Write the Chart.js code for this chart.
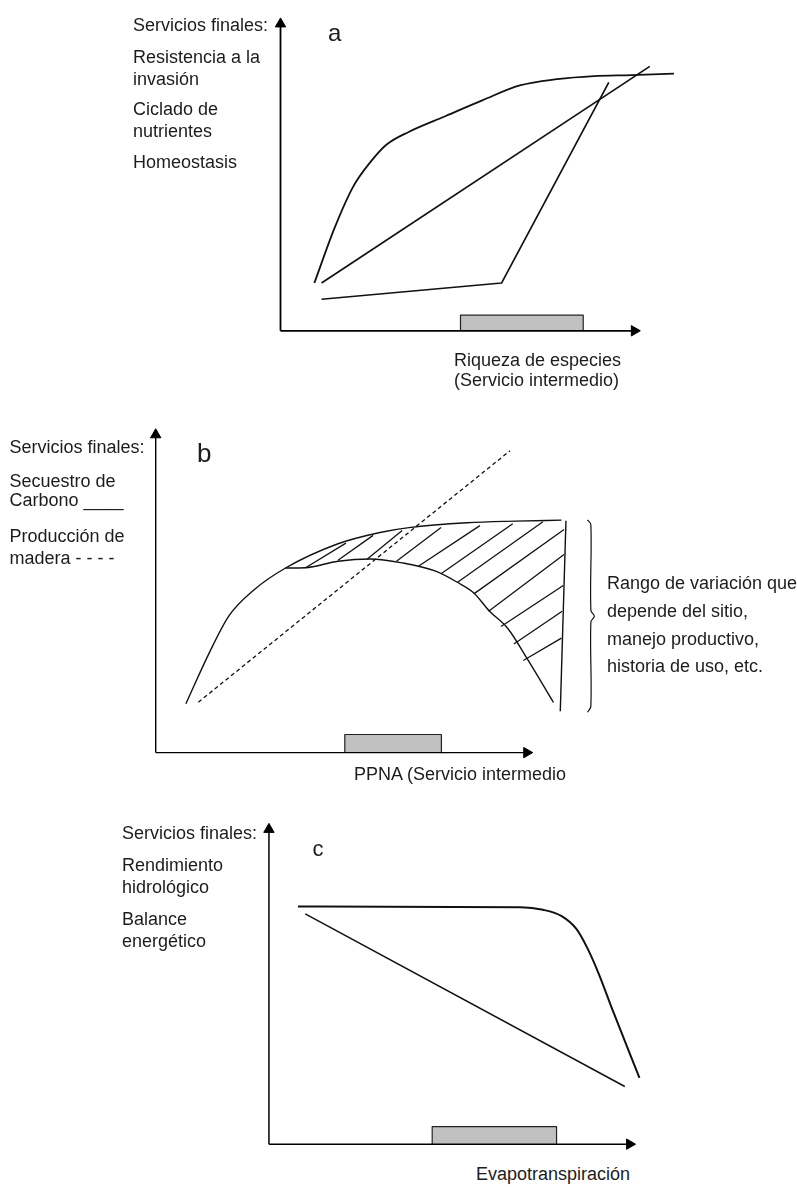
<!DOCTYPE html>
<html lang="es">
<head>
<meta charset="utf-8">
<title>Servicios finales e intermedios</title>
<script src="https://cdn.jsdelivr.net/npm/chart.js@4.4.0/dist/chart.umd.min.js"></script>
<style>
  body { margin: 0; background: #fff; }
  #lienzo { position: relative; width: 797px; height: 1187px; overflow: hidden; }
  canvas { position: absolute; }
  .txt {
    position: absolute;
    font-family: "Liberation Sans", Arial, sans-serif;
    font-size: 18px;
    line-height: 18px;
    color: #1c1c1c;
    white-space: nowrap;
  }
</style>
</head>
<body>
<div id="lienzo">
  <canvas id="panelA" width="432" height="355" style="left:259px;top:2px"></canvas>
  <canvas id="panelB" width="470" height="362" style="left:139px;top:413px"></canvas>
  <canvas id="panelC" width="405" height="354" style="left:252px;top:808px"></canvas>

  <!-- panel a -->
  <div class="txt" style="left:133px;top:15.8px">Servicios finales:</div>
  <div class="txt" style="left:133px;top:47.8px">Resistencia a la</div>
  <div class="txt" style="left:133px;top:69.8px">invasión</div>
  <div class="txt" style="left:133px;top:99.8px">Ciclado de</div>
  <div class="txt" style="left:133px;top:121.8px">nutrientes</div>
  <div class="txt" style="left:133px;top:152.8px">Homeostasis</div>
  <div class="txt" style="left:328px;top:21.4px;font-size:24px;line-height:24px">a</div>
  <div class="txt" style="left:454px;top:350.6px">Riqueza de especies</div>
  <div class="txt" style="left:454px;top:371.3px">(Servicio intermedio)</div>

  <!-- panel b -->
  <div class="txt" style="left:9.5px;top:438.1px">Servicios finales:</div>
  <div class="txt" style="left:9.5px;top:471.8px">Secuestro de</div>
  <div class="txt" style="left:9.5px;top:490.8px">Carbono ____</div>
  <div class="txt" style="left:9.5px;top:526.8px">Producción de</div>
  <div class="txt" style="left:9.5px;top:549.3px">madera - - - -</div>
  <div class="txt" style="left:197px;top:440px;font-size:26px;line-height:26px">b</div>
  <div class="txt" style="left:607px;top:574.3px">Rango de variación que</div>
  <div class="txt" style="left:607px;top:602.3px">depende del sitio,</div>
  <div class="txt" style="left:607px;top:629.8px">manejo productivo,</div>
  <div class="txt" style="left:607px;top:657.3px">historia de uso, etc.</div>
  <div class="txt" style="left:354px;top:765.3px">PPNA (Servicio intermedio</div>

  <!-- panel c -->
  <div class="txt" style="left:122px;top:823.8px">Servicios finales:</div>
  <div class="txt" style="left:122px;top:856.3px">Rendimiento</div>
  <div class="txt" style="left:122px;top:877.8px">hidrológico</div>
  <div class="txt" style="left:122px;top:909.8px">Balance</div>
  <div class="txt" style="left:122px;top:931.8px">energético</div>
  <div class="txt" style="left:312.5px;top:838.4px;font-size:22px;line-height:22px">c</div>
  <div class="txt" style="left:476px;top:1165.3px">Evapotranspiración</div>
</div>

<script>
// ejes: 0 = origen, 100 = punta de la flecha (unidades esquemáticas)
const largoEje = 98.3;

// panel a - riqueza de especies
const aCurvaX = [9.4, 15.0, 20.2, 25.3, 29.4, 35.6, 45.9, 56.2, 66.5, 76.8, 87.1, 97.4, 109.3];
const aCurvaY = [15.3, 32.9, 46.2, 54.5, 59.6, 63.7, 68.8, 73.9, 78.6, 80.6, 81.6, 81.9, 82.4];
const aRectaX = [11.4, 102.6];
const aRectaY = [15.3, 84.7];
const aQuiebreX = [11.4, 61.4, 91.2];
const aQuiebreY = [10.1, 15.3, 79.6];
const aBarraX = [50.0, 84.1];
const aBarraAlto = 5.0;

// panel b - PPNA
const bSuperiorX = [8.0, 14.0, 19.4, 26.0, 34.4, 48.3, 59.4, 67.1, 82.5, 95.4, 107.5];
const bSuperiorY = [15.1, 30.4, 42.3, 50.3, 57.1, 64.6, 68.1, 69.6, 71.1, 71.6, 71.9];
const bInferiorX = [34.4, 39.6, 48.3, 56.8, 65.3, 74.0, 79.9, 84.3, 88.4, 93.3, 98.7, 105.4];
const bInferiorY = [57.1, 57.2, 59.2, 59.9, 58.7, 56.2, 52.7, 49.4, 43.8, 38.4, 28.5, 15.5];
const bVerticalX = [108.7, 107.2];
const bVerticalY = [71.7, 12.8];
const bMaderaX = [11.3, 93.9];
const bMaderaY = [15.6, 93.4];
const bRayaInicioX = [39.6, 48.3, 56.0, 63.8, 69.7, 75.6, 79.9, 84.3, 88.2, 91.5, 94.9, 97.4];
const bRayaInicioY = [57.1, 59.5, 59.8, 59.2, 57.7, 55.3, 52.6, 49.1, 43.7, 39.0, 33.6, 28.5];
const bRayaFinX = [50.4, 57.6, 65.3, 75.6, 85.9, 94.6, 102.6, 108.2, 108.2, 108.0, 107.7, 107.5];
const bRayaFinY = [64.8, 67.2, 68.7, 69.6, 70.2, 70.8, 71.4, 69.0, 61.3, 51.7, 43.7, 35.4];
const bLlaveX = [114.4, 115.3, 115.3, 116.2, 115.3, 115.3, 114.4];
const bLlaveY = [72.0, 70.5, 44.0, 42.2, 40.4, 14.3, 12.5];
const bBarraX = [50.1, 75.7];
const bBarraAlto = 5.6;

// panel c - evapotranspiracion
const cMesetaX = [7.9, 68.6, 74.7, 79.8, 83.8, 86.8, 89.9, 93.9, 101.0];
const cMesetaY = [74.2, 74.0, 73.2, 71.2, 67.2, 61.2, 53.2, 41.2, 20.7];
const cRectaX = [9.9, 97.0];
const cRectaY = [71.9, 18.0];
const cBarraX = [44.5, 78.4];
const cBarraAlto = 5.5;

function puntos(xs, ys) {
  return xs.map((x, i) => ({ x: x, y: ys[i] }));
}

function linea(xs, ys, extra) {
  return Object.assign({
    data: puntos(xs, ys),
    borderColor: "#111",
    borderWidth: 1.6,
    pointRadius: 0,
    tension: 0,
    fill: false,
    clip: false,
    borderJoinStyle: "round",
  }, extra || {});
}

// los dos ejes con su flecha (triangulo al final)
function ejes(grosor) {
  const flecha = {
    borderColor: "#000",
    borderWidth: grosor,
    pointStyle: "triangle",
    pointRadius: [0, 6],
    pointBackgroundColor: "#000",
    pointBorderColor: "#000",
    pointBorderWidth: 1,
  };
  return [
    linea([0, largoEje], [0, 0], Object.assign({}, flecha, { pointRotation: [0, 90] })),
    linea([0, 0], [0, largoEje], Object.assign({}, flecha, { pointRotation: [0, 0] })),
  ];
}

function barra(xs, alto) {
  return linea([xs[0], xs[0], xs[1], xs[1]], [0, alto, alto, 0], {
    fill: "origin",
    backgroundColor: "#c0c0c0",
    borderColor: "#222",
    borderWidth: 1.2,
  });
}

function crearPanel(id, datasets, limites) {
  new Chart(document.getElementById(id), {
    type: "line",
    data: { datasets: datasets },
    options: {
      animation: false,
      responsive: false,
      events: [],
      layout: { padding: 0 },
      plugins: { legend: { display: false }, tooltip: { enabled: false } },
      scales: {
        x: { type: "linear", display: false, min: limites[0], max: limites[1] },
        y: { type: "linear", display: false, min: limites[2], max: limites[3] },
      },
    },
  });
}

// panel a
crearPanel("panelA", [
  ...ejes(1.8),
  linea(aCurvaX, aCurvaY, { cubicInterpolationMode: "monotone", borderWidth: 1.8 }),
  linea(aRectaX, aRectaY, { borderWidth: 1.7 }),
  linea(aQuiebreX, aQuiebreY, { borderWidth: 1.7 }),
  barra(aBarraX, aBarraAlto),
], [-4.032, 112.097, -6.154, 103.08]);

// panel b
const rayas = bRayaInicioX.map((x, i) =>
  linea([x, bRayaFinX[i]], [bRayaInicioY[i], bRayaFinY[i]], { borderWidth: 1.3 })
);
crearPanel("panelB", [
  ...ejes(1.4),
  linea(bSuperiorX, bSuperiorY, { cubicInterpolationMode: "monotone", borderWidth: 1.4 }),
  linea(bInferiorX, bInferiorY, { cubicInterpolationMode: "monotone", borderWidth: 1.4 }),
  linea(bVerticalX, bVerticalY, { borderWidth: 1.4 }),
  linea(bMaderaX, bMaderaY, { borderWidth: 1.3, borderDash: [4, 3] }),
  ...rayas,
  linea(bLlaveX, bLlaveY, { tension: 0.35, borderWidth: 1.2 }),
  barra(bBarraX, bBarraAlto),
], [-2.571, 118.25, -4.758, 102.88]);

// panel c
crearPanel("panelC", [
  ...ejes(1.5),
  linea(cMesetaX, cMesetaY, { cubicInterpolationMode: "monotone", borderWidth: 2.0 }),
  linea(cRectaX, cRectaY, { borderWidth: 1.5 }),
  barra(cBarraX, cBarraAlto),
], [-2.711, 103.87, -3.389, 102.79]);
</script>
</body>
</html>
